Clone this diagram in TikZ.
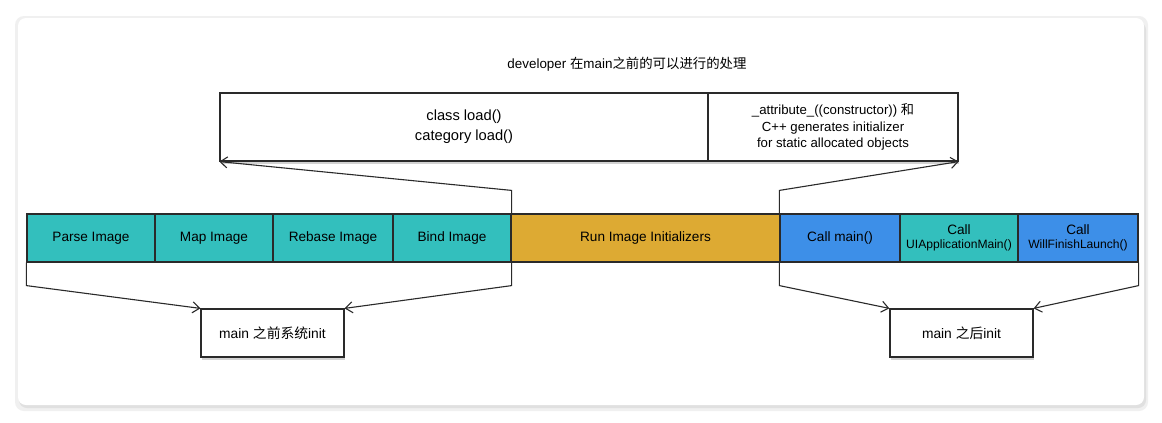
\documentclass[tikz,border=0pt]{standalone}
\usepackage{fontspec}
\setmainfont{Liberation Sans}
\newfontfamily\cjk{Noto Sans CJK SC}
\usetikzlibrary{arrows.meta,shadows}
\definecolor{tealcell}{HTML}{33BFBD}
\definecolor{goldcell}{HTML}{DDAA33}
\definecolor{bluecell}{HTML}{3D8FE8}
\definecolor{edgegray}{HTML}{2A2A2A}
\tikzset{
  cell/.style={draw=edgegray, line width=1.2pt, minimum height=48pt, inner sep=0pt, font=\fontsize{13.6}{15}\selectfont, align=center},
  notebox/.style={draw=edgegray, line width=1.2pt, fill=white, inner sep=0pt, font=\fontsize{13.8}{15}\selectfont, align=center,
    drop shadow={shadow xshift=1pt, shadow yshift=-3pt, opacity=.35}},
  arr/.style={draw=edgegray, line width=1.1pt, -{Straight Barb[length=7pt,width=11pt]}},
}
\begin{document}
\begin{tikzpicture}[x=1pt,y=-1pt]
\useasboundingbox (0,0) rectangle (1162,423);
\fill[white] (0,0) rectangle (1162,423);
\fill[black!6, rounded corners=9pt] (15,16) rectangle (1148,411);
\fill[black!12, rounded corners=8pt] (19,22) rectangle (1146,408);
\fill[white, rounded corners=8pt] (18,18) rectangle (1144,405);

\node[font=\fontsize{13.4}{15}\selectfont] (title) at (627,64) {developer {\cjk 在}main{\cjk 之前的可以进行的处理}};

\node[notebox, minimum width=488pt, minimum height=68pt, font=\fontsize{14.7}{20}\selectfont] (loadbox) at (464,127) {class load()\\category load()};
\node[notebox, minimum width=250pt, minimum height=68pt, font=\fontsize{13.2}{16.5}\selectfont] (attrbox) at (833,127) {\_attribute\_((constructor)) {\cjk 和}\\C++ generates initializer\\for static allocated objects};

\node[cell, fill=tealcell, minimum width=128pt] (parse) at (91,238) {Parse Image};
\node[cell, fill=tealcell, minimum width=118pt] (map) at (214,238) {Map Image};
\node[cell, fill=tealcell, minimum width=120pt] (rebase) at (333,238) {Rebase Image};
\node[cell, fill=tealcell, minimum width=118pt] (bind) at (452,238) {Bind Image};
\node[cell, fill=goldcell, minimum width=269pt] (run) at (645.5,238) {Run Image Initializers};
\node[cell, fill=bluecell, minimum width=120pt] (callmain) at (840,238) {Call main()};
\node[cell, fill=tealcell, minimum width=118pt] (uiapp) at (959,238) {Call\\[-1pt]{\fontsize{12.1}{13}\selectfont UIApplicationMain()}};
\node[cell, fill=bluecell, minimum width=120pt] (willfinish) at (1078,238) {Call\\[-1pt]{\fontsize{12.1}{13}\selectfont WillFinishLaunch()}};

\node[notebox, minimum width=143pt, minimum height=48pt] (sysinit) at (272.5,333) {main {\cjk 之前系统}init};
\node[notebox, minimum width=143pt, minimum height=48pt] (afterinit) at (961.5,333) {main {\cjk 之后}init};

\draw[arr] (bind.north east) -- ++(0,-23) -- (loadbox.south west);
\draw[arr] (callmain.north west) -- ++(0,-23) -- (attrbox.south east);
\draw[arr] (parse.south west) -- ++(0,23) -- (sysinit.north west);
\draw[arr] (bind.south east) -- ++(0,23) -- (sysinit.north east);
\draw[arr] (callmain.south west) -- ++(0,23) -- (afterinit.north west);
\draw[arr] (willfinish.south east) -- ++(0,23) -- (afterinit.north east);
\end{tikzpicture}
\end{document}
